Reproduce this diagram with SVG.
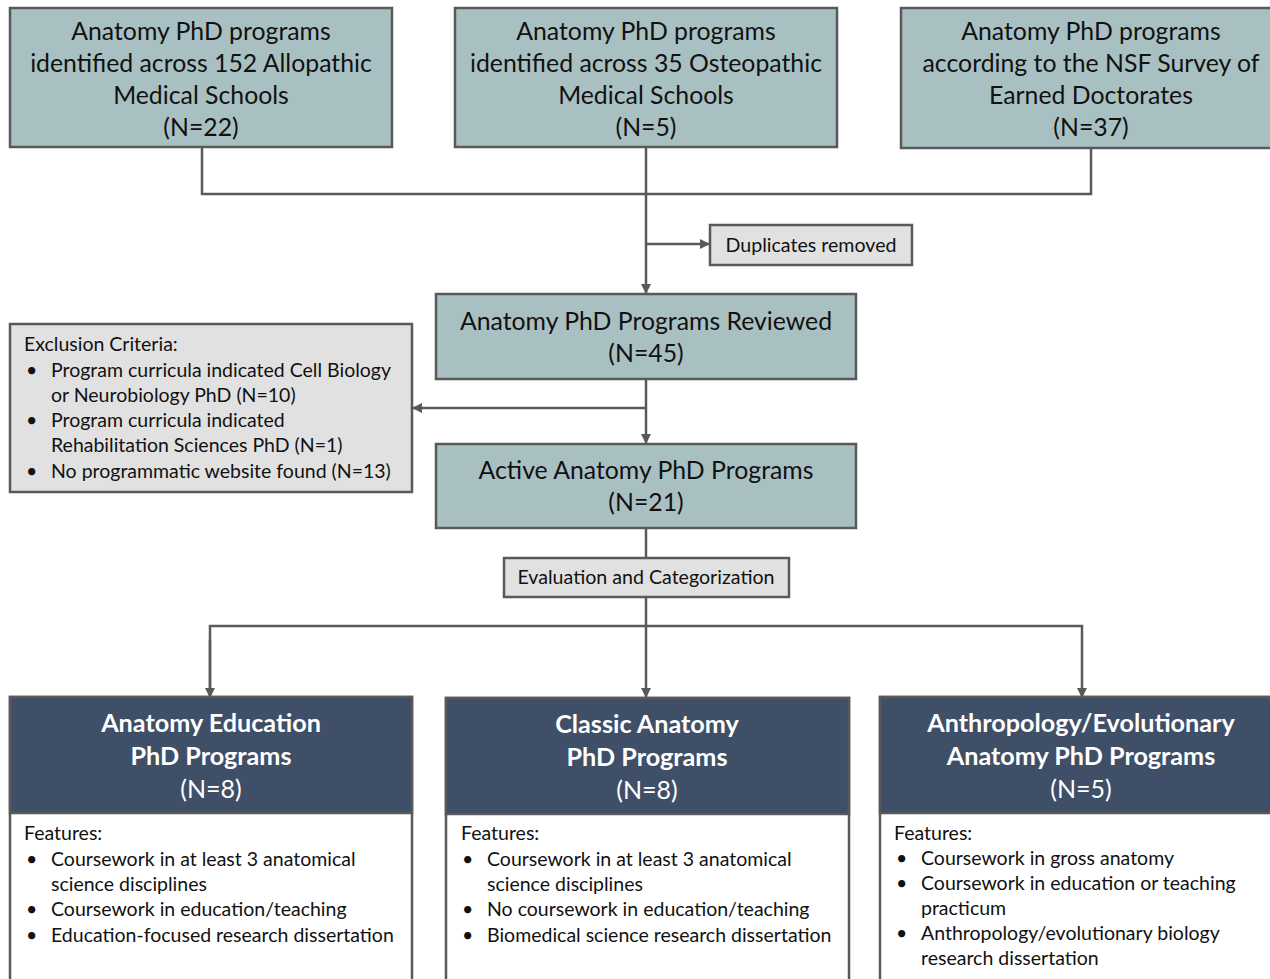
<svg xmlns="http://www.w3.org/2000/svg" width="1270" height="979" viewBox="0 0 1270 979">
<style>
.top{fill:#a9c0c2;stroke:#595959;stroke-width:2.5}
.grey{fill:#e1e1e1;stroke:#595959;stroke-width:2.5}
.hdr{fill:#3f4f67;stroke:#595959;stroke-width:2.5}
.body{fill:#ffffff;stroke:#595959;stroke-width:2.5}
text{font-family:Lato,"Liberation Sans",sans-serif;fill:#111111}
.t24{font-size:24.8px;text-anchor:middle}
.t18{font-size:19.5px}
.c18{font-size:19.6px;text-anchor:middle}
.h{font-size:25.2px;text-anchor:middle;fill:#ffffff;font-weight:bold}
.hn{font-size:25px;text-anchor:middle;fill:#ffffff}
.ln{stroke:#595959;stroke-width:2.5;fill:none}
</style>
<defs>
<marker id="ah" markerWidth="10" markerHeight="10" refX="9" refY="5" orient="auto" markerUnits="userSpaceOnUse">
<path d="M0,0 L10,5 L0,10 Z" fill="#595959"/>
</marker>
</defs>
<g id="connectors">
<polyline class="ln" points="202,147 202,194 1091,194 1091,148"/>
<line class="ln" x1="646" y1="147" x2="646" y2="293" marker-end="url(#ah)"/>
<line class="ln" x1="646" y1="244" x2="709" y2="244" marker-end="url(#ah)"/>
<line class="ln" x1="646" y1="379" x2="646" y2="443" marker-end="url(#ah)"/>
<line class="ln" x1="646" y1="408" x2="413" y2="408" marker-end="url(#ah)"/>
<line class="ln" x1="646" y1="528" x2="646" y2="558"/>
<line class="ln" x1="646" y1="597" x2="646" y2="697" marker-end="url(#ah)"/>
<polyline class="ln" points="210,697 210,626 1082,626 1082,697" marker-end="url(#ah)"/>
<line class="ln" x1="210" y1="640" x2="210" y2="697" marker-end="url(#ah)"/>
</g>
<g id="allopathic">
<rect class="top" x="10" y="8" width="382" height="139"/>
<text class="t24" x="201" y="40">Anatomy PhD programs</text>
<text class="t24" x="201" y="72">identified across 152 Allopathic</text>
<text class="t24" x="201" y="104">Medical Schools</text>
<text class="t24" x="201" y="136">(N=22)</text>
</g>
<g id="osteopathic">
<rect class="top" x="455" y="8" width="382" height="139"/>
<text class="t24" x="646" y="40">Anatomy PhD programs</text>
<text class="t24" x="646" y="72">identified across 35 Osteopathic</text>
<text class="t24" x="646" y="104">Medical Schools</text>
<text class="t24" x="646" y="136">(N=5)</text>
</g>
<g id="nsf">
<rect class="top" x="901" y="8" width="372" height="140"/>
<text class="t24" x="1091" y="40">Anatomy PhD programs</text>
<text class="t24" x="1091" y="72">according to the NSF Survey of</text>
<text class="t24" x="1091" y="104">Earned Doctorates</text>
<text class="t24" x="1091" y="136">(N=37)</text>
</g>
<g id="duplicates">
<rect class="grey" x="710" y="225" width="202" height="40"/>
<text class="c18" x="811" y="252">Duplicates removed</text>
</g>
<g id="reviewed">
<rect class="top" x="436" y="294" width="420" height="85"/>
<text class="t24" x="646" y="330">Anatomy PhD Programs Reviewed</text>
<text class="t24" x="646" y="362">(N=45)</text>
</g>
<g id="exclusion">
<rect class="grey" x="10" y="324" width="402" height="168"/>
<text class="t18" x="24" y="351">Exclusion Criteria:</text>
<text class="t18" x="26" y="377">•</text><text class="t18" x="51" y="377">Program curricula indicated Cell Biology</text>
<text class="t18" x="51" y="402">or Neurobiology PhD (N=10)</text>
<text class="t18" x="26" y="427">•</text><text class="t18" x="51" y="427">Program curricula indicated</text>
<text class="t18" x="51" y="452">Rehabilitation Sciences PhD (N=1)</text>
<text class="t18" x="26" y="478">•</text><text class="t18" x="51" y="478">No programmatic website found (N=13)</text>
</g>
<g id="active">
<rect class="top" x="436" y="444" width="420" height="84"/>
<text class="t24" x="646" y="479">Active Anatomy PhD Programs</text>
<text class="t24" x="646" y="511">(N=21)</text>
</g>
<g id="evaluation">
<rect class="grey" x="504" y="558" width="285" height="39"/>
<text class="c18" x="646" y="584">Evaluation and Categorization</text>
</g>
<g id="education">
<rect class="body" x="10" y="697" width="402" height="290"/>
<rect class="hdr" x="10" y="697" width="402" height="116"/>
<text class="h" x="211" y="732">Anatomy Education</text>
<text class="h" x="211" y="765">PhD Programs</text>
<text class="hn" x="211" y="798">(N=8)</text>
<text class="t18" x="24" y="840">Features:</text>
<text class="t18" x="26" y="866">•</text><text class="t18" x="51" y="866">Coursework in at least 3 anatomical</text>
<text class="t18" x="51" y="891">science disciplines</text>
<text class="t18" x="26" y="916">•</text><text class="t18" x="51" y="916">Coursework in education/teaching</text>
<text class="t18" x="26" y="942">•</text><text class="t18" x="51" y="942">Education-focused research dissertation</text>
</g>
<g id="classic">
<rect class="body" x="446" y="698" width="403" height="290"/>
<rect class="hdr" x="446" y="698" width="403" height="116"/>
<text class="h" x="647" y="733">Classic Anatomy</text>
<text class="h" x="647" y="766">PhD Programs</text>
<text class="hn" x="647" y="799">(N=8)</text>
<text class="t18" x="461" y="840">Features:</text>
<text class="t18" x="462" y="866">•</text><text class="t18" x="487" y="866">Coursework in at least 3 anatomical</text>
<text class="t18" x="487" y="891">science disciplines</text>
<text class="t18" x="462" y="916">•</text><text class="t18" x="487" y="916">No coursework in education/teaching</text>
<text class="t18" x="462" y="942">•</text><text class="t18" x="487" y="942">Biomedical science research dissertation</text>
</g>
<g id="anthropology">
<rect class="body" x="880" y="697" width="393" height="290"/>
<rect class="hdr" x="880" y="697" width="393" height="116"/>
<text class="h" x="1081" y="732">Anthropology/Evolutionary</text>
<text class="h" x="1081" y="765">Anatomy PhD Programs</text>
<text class="hn" x="1081" y="798">(N=5)</text>
<text class="t18" x="894" y="840">Features:</text>
<text class="t18" x="896" y="865">•</text><text class="t18" x="921" y="865">Coursework in gross anatomy</text>
<text class="t18" x="896" y="890">•</text><text class="t18" x="921" y="890">Coursework in education or teaching</text>
<text class="t18" x="921" y="915">practicum</text>
<text class="t18" x="896" y="940">•</text><text class="t18" x="921" y="940">Anthropology/evolutionary biology</text>
<text class="t18" x="921" y="965">research dissertation</text>
</g>
</svg>
